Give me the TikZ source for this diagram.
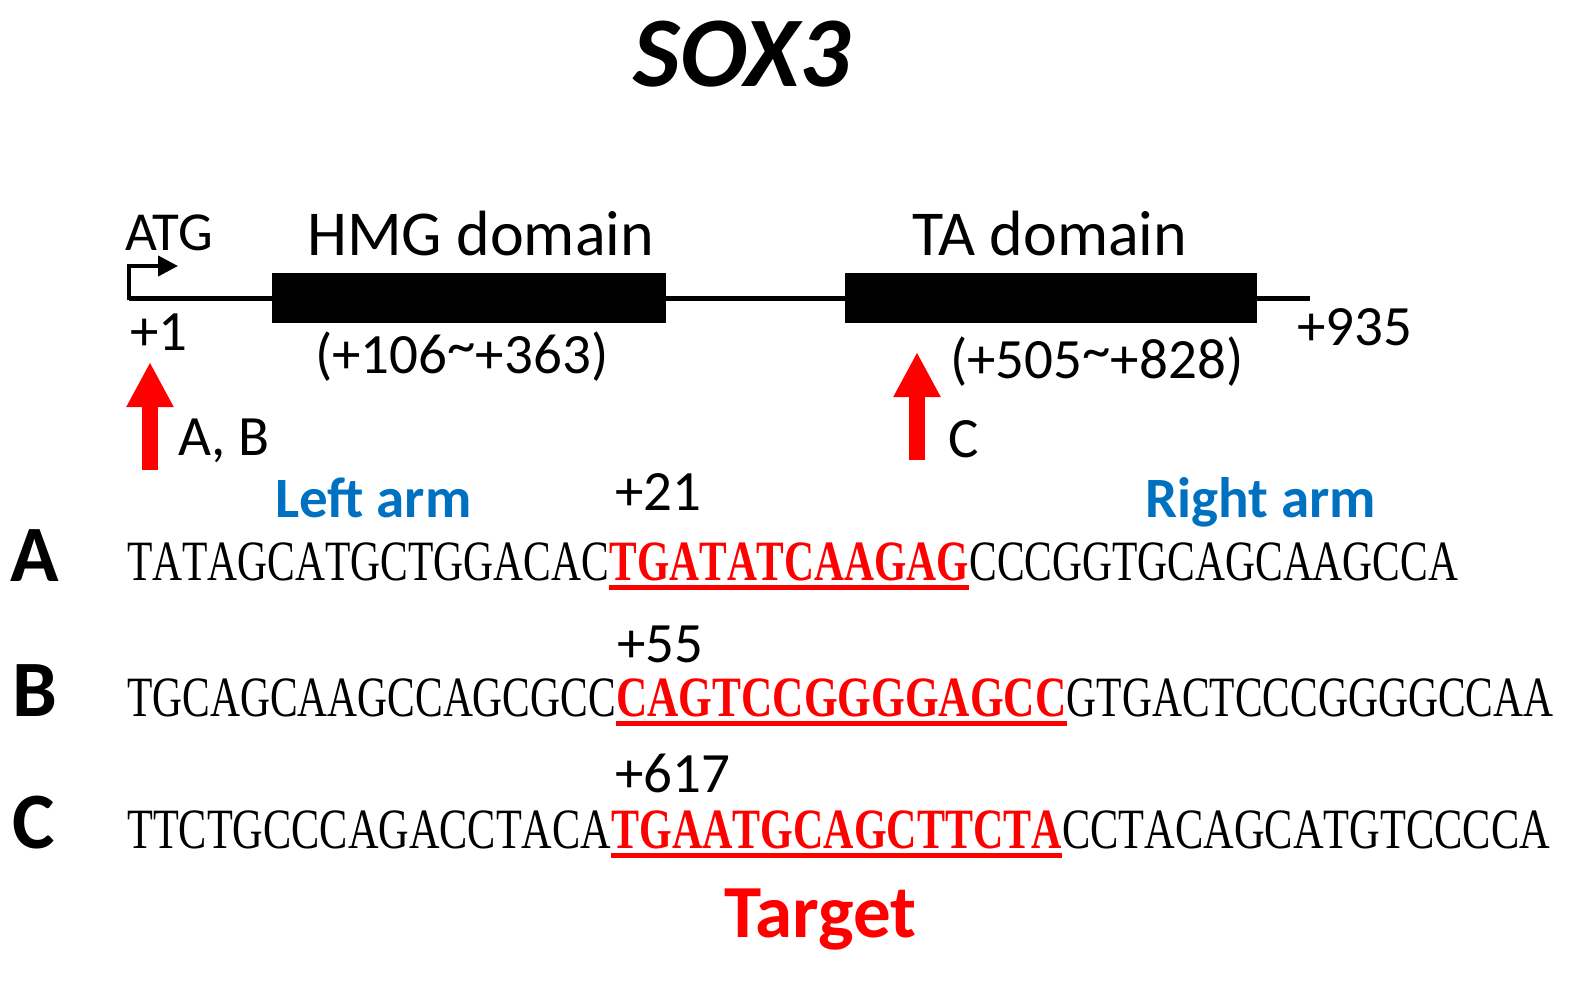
\documentclass[tikz,border=0pt]{standalone}
\usepackage{fontspec}
\setmainfont{Carlito}
\newfontfamily\seqfont[FakeStretch=0.728,Kerning=Off]{Liberation Serif}
\usetikzlibrary{arrows.meta,positioning}
\definecolor{armblue}{RGB}{0,112,192}
\definecolor{tgtred}{RGB}{255,0,0}
\newcommand{\tld}{\raisebox{0.15em}{\textasciitilde}}
\begin{document}
\begin{tikzpicture}[x=1pt,y=-1pt,
  lbl/.style={anchor=base west, inner sep=0, font=\fontsize{57}{60}\selectfont},
  seq/.style={anchor=base west, inner sep=0, font=\seqfont\fontsize{57}{60}\selectfont},
  tgt/.style={seq, font=\seqfont\bfseries\fontsize{57}{60}\selectfont, text=tgtred},
  row/.style={anchor=base west, inner sep=0, font=\bfseries\fontsize{80}{80}\selectfont},
  arm/.style={anchor=base west, inner sep=0, font=\bfseries\fontsize{57}{60}\selectfont, text=armblue},
  domainbox/.style={fill, inner sep=0, minimum height=50pt},
  uline/.style={tgtred, line width=5pt},
  cut/.style={tgtred, line width=16pt, -{Triangle[width=44pt,length=45pt]}}]
\useasboundingbox (0,0) rectangle (1591,982);
\node[anchor=base, inner sep=0, font=\bfseries\itshape\fontsize{100}{100}\selectfont] (title) at (742,86) {SOX3};
% gene
\coordinate (start) at (129,298);
\coordinate (stop) at (1310,298);
\coordinate (tss) at (129,266);
\coordinate (tssend) at (178,266);
\node[domainbox, minimum width=394pt] (hmg) at (469,298) {};
\node[domainbox, minimum width=412pt] (ta) at (1051,298) {};
\draw[line width=5pt] (start) -- (hmg.west);
\draw[line width=5pt] (hmg.east) -- (ta.west);
\draw[line width=5pt] (ta.east) -- (stop);
\draw[line width=4pt, -{Triangle[width=20pt,length=20pt]}] ([yshift=-2pt]start) -- (tss) -- (tssend);
\node[lbl, font=\fontsize{55}{58}\selectfont] (atg) at (125,250) {ATG};
\node[lbl, font=\fontsize{64}{67}\selectfont] (hmglbl) at (307,255) {HMG domain};
\node[lbl, font=\fontsize{64}{67}\selectfont] (talbl) at (912,255) {TA domain};
\node[lbl] (p1) at (130,350) {+1};
\node[lbl] (hmgpos) at (315,373) {(+106\tld+363)};
\node[lbl] (tapos) at (950,378) {(+505\tld+828)};
\node[lbl] (p935) at (1297,345) {+935};
% target sites
\coordinate (cutab) at (150,470);
\coordinate (cutabtip) at (150,362);
\coordinate (cutc) at (917,460);
\coordinate (cutctip) at (917,352);
\draw[cut] (cutab) -- (cutabtip);
\draw[cut] (cutc) -- (cutctip);
\node[lbl] (ablbl) at (178,455) {A, B};
\node[lbl] (clbl) at (948,457) {C};
% sequences
\node[arm] (left) at (275,517) {Left arm};
\node[arm] (right) at (1145,517) {Right arm};
\node[lbl] (pa) at (615,510) {+21};
\node[lbl] (pb) at (617,662) {+55};
\node[lbl] (pc) at (615,792) {+617};
\node[row] (ra) at (10,581) {A};
\node[row] (rb) at (12,716) {B};
\node[row] (rc) at (12,848) {C};
\node[seq] (a1) at (127,580) {TATAGCATGCTGGACAC};
\node[tgt] (a2) at (a1.base east) {TGATATCAAGAG};
\node[seq] (a3) at (a2.base east) {CCCGGTGCAGCAAGCCA};
\node[seq] (b1) at (127,716) {TGCAGCAAGCCAGCGCC};
\node[tgt, xscale=1.044, transform shape] (b2) at (b1.base east) {CAGTCCGGGGAGCC};
\node[seq] (b3) at (b2.base east) {GTGACTCCCGGGGCCAA};
\node[seq, xscale=1.019, transform shape] (c1) at (127,848) {TTCTGCCCAGACCTACA};
\node[tgt, xscale=1.012, transform shape] (c2) at (c1.base east) {TGAATGCAGCTTCTA};
\node[seq, xscale=1.022, transform shape] (c3) at (c2.base east) {CCTACAGCATGTCCCCA};
\draw[uline] ([yshift=-7pt]a2.base west) -- ([yshift=-7pt]a2.base east);
\draw[uline] ([yshift=-7pt]b2.base west) -- ([yshift=-7pt]b2.base east);
\draw[uline] ([yshift=-7pt]c2.base west) -- ([yshift=-7pt]c2.base east);
\node[anchor=base west, inner sep=0, font=\bfseries\fontsize{75}{75}\selectfont, text=tgtred] (target) at (724,937) {Target};
\end{tikzpicture}
\end{document}
